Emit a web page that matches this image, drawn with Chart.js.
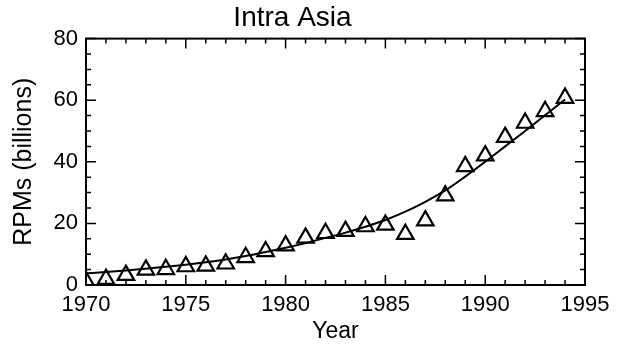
<!DOCTYPE html>
<html>
<head>
<meta charset="utf-8">
<script src="https://cdn.jsdelivr.net/npm/chart.js@4/dist/chart.umd.min.js"></script>
<style>
  html, body { margin: 0; padding: 0; background: #fff; }
  #wrap { width: 628px; height: 348px; }
</style>
</head>
<body>
<div id="wrap"><canvas id="chart" width="628" height="348"></canvas></div>
<script>
// data
const years = [1970, 1971, 1972, 1973, 1974, 1975, 1976, 1977, 1978, 1979, 1980, 1981,
  1982, 1983, 1984, 1985, 1986, 1987, 1988, 1989, 1990, 1991, 1992, 1993, 1994];
const rpms = [1.2, 1.9, 3.2, 4.9, 5.1, 6.0, 6.2, 6.9, 9.0, 10.9, 12.8, 15.3,
  16.8, 17.5, 19.0, 19.5, 16.5, 20.9, 29.0, 38.5, 42.0, 48.0, 52.6, 56.4, 60.7];
// fitted trend curve, read at each year
const trend = [3.8, 4.2, 4.7, 5.3, 5.9, 6.6, 7.4, 8.3, 9.4, 10.7, 12.1, 13.6,
  15.3, 17.0, 18.9, 21.1, 23.8, 27.0, 30.7, 35.2, 40.0, 45.0, 50.0, 55.1, 60.2];
const xTicks = [1970, 1975, 1980, 1985, 1990, 1995];
const yTicks = [0, 20, 40, 60, 80];

const ink = '#000';
const font = 'Liberation Sans, Arial, Helvetica, sans-serif';

// box with inward ticks on all four sides, like the original plot
const boxTicks = {
  id: 'boxTicks',
  afterDatasetsDraw(chart) {
    const { ctx, chartArea: a, scales: { x, y } } = chart;
    ctx.save();
    ctx.strokeStyle = ink;
    ctx.lineWidth = 2;
    ctx.strokeRect(a.left, a.top, a.right - a.left, a.bottom - a.top);
    ctx.lineWidth = 1.5;
    ctx.beginPath();
    for (let v = 1970; v <= 1995; v++) {
      const px = x.getPixelForValue(v);
      const len = v % 5 === 0 ? 10 : 5;
      ctx.moveTo(px, a.bottom); ctx.lineTo(px, a.bottom - len);
      ctx.moveTo(px, a.top); ctx.lineTo(px, a.top + len);
    }
    for (let v = 0; v <= 80; v += 5) {
      const py = y.getPixelForValue(v);
      const len = v % 20 === 0 ? 10 : 5;
      ctx.moveTo(a.left, py); ctx.lineTo(a.left + len, py);
      ctx.moveTo(a.right, py); ctx.lineTo(a.right - len, py);
    }
    ctx.stroke();
    ctx.restore();
  }
};

new Chart(document.getElementById('chart'), {
  type: 'scatter',
  data: {
    datasets: [{
      label: 'Trend',
      type: 'line',
      data: years.map((yr, i) => ({ x: yr, y: trend[i] })),
      borderColor: ink,
      borderWidth: 2,
      pointRadius: 0,
      cubicInterpolationMode: 'monotone',
      fill: false
    }, {
      label: 'RPMs',
      data: years.map((yr, i) => ({ x: yr, y: rpms[i] })),
      pointStyle: 'triangle',
      pointRadius: 9.5,
      pointBorderWidth: 2.2,
      borderColor: ink,
      backgroundColor: 'rgba(0,0,0,0)',
      clip: 0
    }]
  },
  options: {
    responsive: false,
    animation: false,
    layout: { padding: { left: 0, right: 43, top: 0, bottom: 0 } },
    plugins: {
      legend: { display: false },
      tooltip: { enabled: false },
      title: {
        display: true,
        text: 'Intra Asia',
        color: ink,
        font: { family: font, size: 28, weight: 'normal' },
        padding: { top: 1, bottom: 4 }
      }
    },
    scales: {
      x: {
        type: 'linear',
        min: 1970,
        max: 1995,
        afterBuildTicks: s => { s.ticks = xTicks.map(v => ({ value: v })); },
        afterFit: s => { s.height = 63; },
        grid: { display: false, drawTicks: false },
        border: { display: false },
        ticks: {
          color: ink,
          padding: 7,
          maxRotation: 0,
          font: { family: font, size: 22 },
          callback: v => String(v)
        },
        title: {
          display: true,
          text: 'Year',
          color: ink,
          font: { family: font, size: 23 },
          padding: { top: 0, bottom: 3 }
        }
      },
      y: {
        min: 0,
        max: 80,
        afterBuildTicks: s => { s.ticks = yTicks.map(v => ({ value: v })); },
        afterFit: s => { s.width = 86; },
        grid: { display: false, drawTicks: false },
        border: { display: false },
        ticks: {
          color: ink,
          padding: 8,
          font: { family: font, size: 22 },
          callback: v => String(v)
        },
        title: {
          display: true,
          text: 'RPMs (billions)',
          color: ink,
          font: { family: font, size: 25 },
          padding: { top: 9, bottom: 0 }
        }
      }
    }
  },
  plugins: [boxTicks]
});
</script>
</body>
</html>
